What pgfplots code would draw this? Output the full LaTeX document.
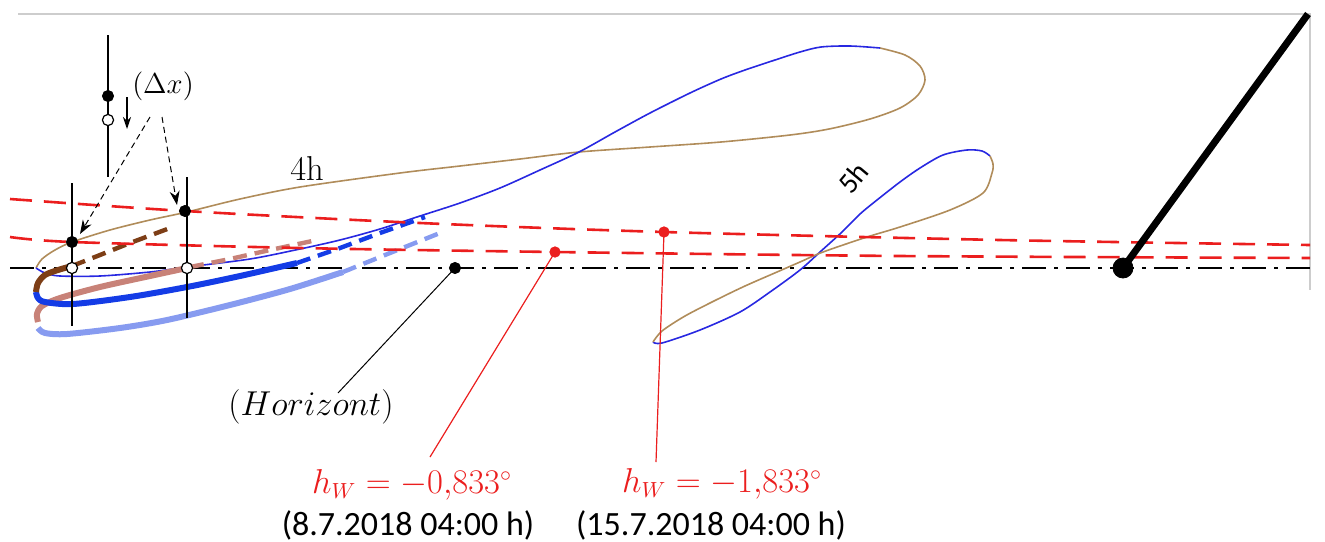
\documentclass[border=0pt]{standalone}
\usepackage[no-math]{fontspec}
\setmainfont{Carlito}
\usepackage{pgfplots}
\pgfplotsset{compat=1.18}
\usetikzlibrary{arrows.meta}
\definecolor{tanb}{RGB}{176,140,90}
\definecolor{thinblue}{RGB}{40,40,225}
\definecolor{redd}{RGB}{235,30,30}
\definecolor{dbrown}{RGB}{125,62,22}
\definecolor{dblue}{RGB}{20,60,230}
\definecolor{salmon}{RGB}{200,130,120}
\definecolor{lblue}{RGB}{135,155,240}
\definecolor{frame}{RGB}{205,205,205}
\begin{document}
\begin{tikzpicture}
\begin{axis}[x=0.5pt, y=0.5pt, y dir=reverse, xmin=0, xmax=1325, ymin=0, ymax=541,
  hide axis, clip=false, scale only axis]
% frame
\addplot[frame, line width=1pt] coordinates {(18,14) (1310,14) (1310,290)};
% horizon
\addplot[black, line width=1.1pt, dash pattern=on 12pt off 4pt on 2pt off 4pt] coordinates {(10,268) (1310,268)};
% thin brown 4h
\addplot[tanb, line width=0.8pt, smooth] coordinates {(36,268) (42,259) (55,250) (72,242) (110,230) (150,220) (187,212) (240,199) (300,187) (400,173) (460,166) (520,159) (579,152) (650,147) (721,142) (790,135) (829,129) (870,119) (900,108) (918,95) (925,80) (920,66) (905,55) (880,48)};
% thin blue 4h
\addplot[thinblue, line width=0.8pt, smooth] coordinates {(880,48) (850,46) (821,47) (800,52) (775,60) (745,70) (721,79) (690,93) (650,113) (615,132) (579,152) (540,170) (500,188) (460,203) (420,216) (380,229) (340,240) (300,249) (250,259) (187,267) (150,272) (100,276) (60,276) (45,273) (36,268)};
% 5h loop
\addplot[thinblue, line width=0.8pt, smooth] coordinates {(653,342) (662,343) (700,330) (740,312) (770,292) (800,270) (820,252) (842,232) (860,214) (877,200) (900,182) (920,168) (943,155) (967,150) (982,151) (990,156)};
\addplot[tanb, line width=0.8pt, smooth] coordinates {(990,156) (993,164) (992,173) (983,193) (950,210) (900,227) (867,237) (823,252) (800,262) (777,272) (745,286) (716,300) (685,316) (662,331) (653,342)};
% thick curves
\addplot[lblue, line width=3pt, smooth] coordinates {(38,328) (45,333) (67,334) (120,328) (167,320) (230,305) (290,289) (343,272)};
\addplot[lblue, line width=2.2pt, dash pattern=on 7pt off 4pt] coordinates {(343,272) (390,253) (440,233)};
\addplot[salmon, line width=3pt, smooth] coordinates {(38,322) (37,314) (42,306) (60,298) (100,287) (150,276) (187,268)};
\addplot[salmon, line width=2.2pt, dash pattern=on 7pt off 4pt] coordinates {(190,267) (230,259) (270,250) (317,240)};
\addplot[dblue, line width=3pt, smooth] coordinates {(36,292) (38,298) (45,302) (73,304) (130,297) (187,287) (240,276) (297,263)};
\addplot[dblue, line width=2.2pt, dash pattern=on 7pt off 4pt] coordinates {(297,263) (340,248) (380,233) (425,217)};
\addplot[dbrown, line width=3pt, smooth] coordinates {(36,292) (38,283) (45,275) (58,270) (72,266)};
\addplot[dbrown, line width=2.2pt, dash pattern=on 7pt off 4pt] coordinates {(72,266) (100,255) (130,243) (170,228)};
% red dashed
\addplot[redd, line width=1.3pt, smooth, dash pattern=on 11pt off 6pt] coordinates {(10,199) (185,211) (420,223) (664,232) (1000,240) (1310,245)};
\addplot[redd, line width=1.3pt, smooth, dash pattern=on 11pt off 6pt] coordinates {(10,237) (72,242) (300,248) (555,252) (900,256) (1310,258)};
% verticals
\addplot[black, line width=0.6pt] coordinates {(72,183) (72,326)};
\addplot[black, line width=0.6pt] coordinates {(187,177) (187,318)};
\addplot[black, line width=0.6pt] coordinates {(108,35) (108,177)};
\addplot[black, line width=0.6pt, -{Stealth[length=6pt,width=4pt]}] coordinates {(127,97) (127,129)};
% dashed arrows
\addplot[black, line width=0.5pt, dash pattern=on 3pt off 2pt, -{Stealth[length=7pt,width=5pt]}] coordinates {(150,117) (80,234)};
\addplot[black, line width=0.5pt, dash pattern=on 3pt off 2pt, -{Stealth[length=7pt,width=5pt]}] coordinates {(162,117) (177,205)};
% leader lines
\addplot[black, line width=0.5pt] coordinates {(455,268) (338,393)};
\addplot[redd, line width=0.6pt] coordinates {(555,252) (430,457)};
\addplot[redd, line width=0.6pt] coordinates {(664,232) (656,462)};
% thick black
\addplot[black, line width=3.5pt] coordinates {(1123,268) (1308,14)};
% dots
\addplot[only marks, mark=*, mark size=2.8pt, black] coordinates {(108,96) (72,242) (185,211) (455,268)};
\addplot[only marks, mark=*, mark size=2.8pt, black, fill=white, line width=0.6pt] coordinates {(108,120) (72,268) (187,268)};
\addplot[only marks, mark=*, mark size=5pt, black] coordinates {(1123,268)};
\addplot[only marks, mark=*, mark size=2.6pt, redd] coordinates {(555,252) (664,232)};
% labels
\node at (axis cs:163,86) {\fontsize{14}{16}\selectfont $(\Delta x)$};
\node at (axis cs:307,168) {\fontsize{16}{18}\selectfont $4\mathrm{h}$};
\node[rotate=50, inner sep=0pt] at (axis cs:853,178) {\fontsize{14.5}{17}\selectfont 5h};
\node at (axis cs:311,407) {\fontsize{16.8}{19}\selectfont $(Horizont)$};
\node[text=redd] at (axis cs:412,485) {\fontsize{16}{19}\selectfont $h_W=-0{,}833^\circ$};
\node[text=redd] at (axis cs:722,484) {\fontsize{16}{19}\selectfont $h_W=-1{,}833^\circ$};
\node at (axis cs:408,525) {\fontsize{17}{19}\selectfont (8.7.2018 04:00 h)};
\node at (axis cs:711,525) {\fontsize{17}{19}\selectfont (15.7.2018 04:00 h)};
\end{axis}
\pgfresetboundingbox
\path (current axis.south west) rectangle (current axis.north east);
\end{tikzpicture}
\end{document}
